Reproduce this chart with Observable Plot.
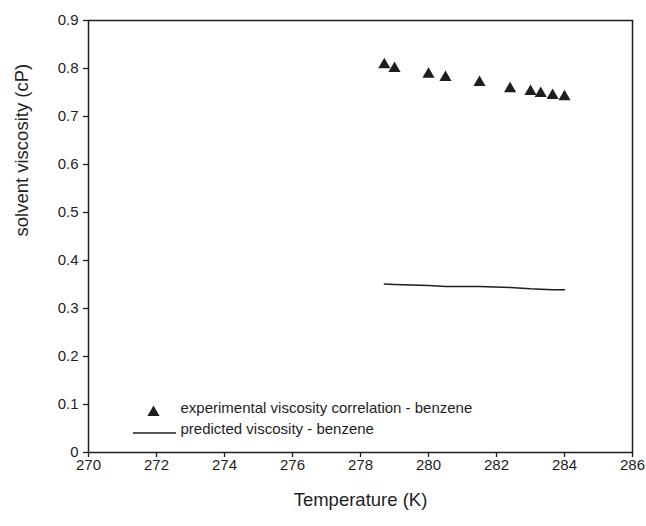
<!DOCTYPE html>
<html>
<head>
<meta charset="utf-8">
<script src="https://cdn.jsdelivr.net/npm/d3@7"></script>
<script src="https://cdn.jsdelivr.net/npm/@observablehq/plot@0.6"></script>
<style>
  html, body { margin: 0; padding: 0; background: #fff; }
  #chart { width: 646px; height: 526px; }
  svg { font-family: "Liberation Sans", Arial, sans-serif; }
</style>
</head>
<body>
<div id="chart"></div>
<script>
const temperature = [278.7, 279.0, 280.0, 280.5, 281.5, 282.4, 283.0, 283.3, 283.65, 284.0];
const experimental = [0.808, 0.800, 0.788, 0.781, 0.771, 0.758, 0.752, 0.748, 0.744, 0.741];
const predicted = [0.351, 0.350, 0.348, 0.346, 0.346, 0.344, 0.341, 0.340, 0.339, 0.339];
const xTicks = [270, 272, 274, 276, 278, 280, 282, 284, 286];
const yTicks = [0, 0.1, 0.2, 0.3, 0.4, 0.5, 0.6, 0.7, 0.8, 0.9];
const legendLabels = ["experimental viscosity correlation - benzene", "predicted viscosity - benzene"];

const expData = temperature.map((t, i) => ({t, v: experimental[i]}));
const predData = temperature.map((t, i) => ({t, v: predicted[i]}));

const ink = "#1e1e1e";
const yFmt = d => d === 0 ? "0" : d.toFixed(1);

const plot = Plot.plot({
  width: 646,
  height: 526,
  marginLeft: 88,
  marginRight: 14,
  marginTop: 20,
  marginBottom: 74,
  style: {fontFamily: "'Liberation Sans', Arial, sans-serif", background: "#fff"},
  x: {domain: [270, 286]},
  y: {domain: [0, 0.9]},
  marks: [
    Plot.frame({stroke: ink, strokeWidth: 1.5}),
    Plot.axisX({ticks: xTicks, tickSize: 5, tickFormat: () => "", stroke: ink, strokeWidth: 1.3, label: null}),
    Plot.axisY({ticks: yTicks, tickSize: 5, tickFormat: () => "", stroke: ink, strokeWidth: 1.3, label: null}),
    Plot.text(xTicks, {x: d => d, text: d => String(d), frameAnchor: "bottom", dy: 17, fontSize: 15, fill: ink}),
    Plot.text(yTicks, {y: d => d, text: yFmt, frameAnchor: "left", dx: -10, textAnchor: "end", fontSize: 15, fill: ink}),
    Plot.text(["Temperature (K)"], {frameAnchor: "bottom", dy: 53, fontSize: 18.5, fill: ink}),
    Plot.text(["solvent viscosity (cP)"], {frameAnchor: "left", dx: -66, rotate: -90, fontSize: 18.5, fill: ink}),
    Plot.line(predData, {x: "t", y: "v", stroke: ink, strokeWidth: 1.5}),
    Plot.dot(expData, {x: "t", y: "v", symbol: "triangle", r: 4.5, fill: ink, stroke: "none"}),
    Plot.dot([legendLabels[0]], {frameAnchor: "bottom-left", dx: 65, dy: -40, symbol: "triangle", r: 4.5, fill: ink}),
    Plot.text([legendLabels[0]], {frameAnchor: "bottom-left", dx: 92, dy: -40, textAnchor: "start", fontSize: 15, fill: ink}),
    Plot.text([legendLabels[1]], {frameAnchor: "bottom-left", dx: 92, dy: -19, textAnchor: "start", fontSize: 15, fill: ink})
  ]
});

// legend line sample
d3.select(plot).append("line")
  .attr("x1", 88 + 45).attr("x2", 88 + 88)
  .attr("y1", 452 - 19).attr("y2", 452 - 19)
  .attr("stroke", ink).attr("stroke-width", 1.5);

document.getElementById("chart").appendChild(plot);
</script>
</body>
</html>
